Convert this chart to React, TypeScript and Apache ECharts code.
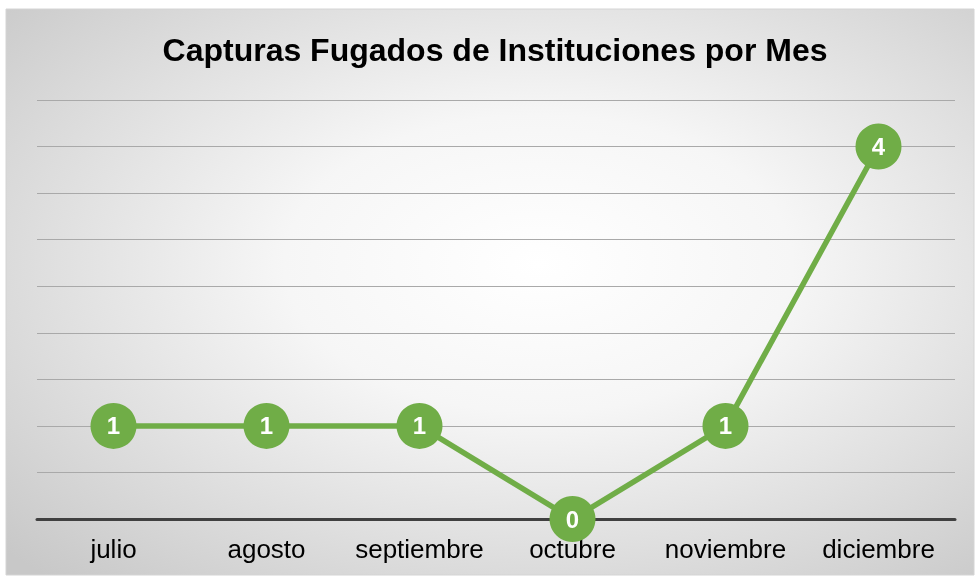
import React, { useEffect, useRef } from "react";
import * as echarts from "echarts";

const months = ["julio", "agosto", "septiembre", "octubre", "noviembre", "diciembre"];
const capturas = [1, 1, 1, 0, 1, 4];
const chartTitle = "Capturas Fugados de Instituciones por Mes";

export default function App() {
  const ref = useRef<HTMLDivElement>(null);
  useEffect(() => {
    if (!ref.current) return;
    const chart = echarts.init(ref.current, undefined, { renderer: "svg" });
    chart.setOption({
      animation: false,
      graphic: [
        {
          type: "rect",
          z: -10,
          silent: true,
          shape: { x: 6, y: 9, width: 968, height: 566 },
          style: {
            fill: new echarts.graphic.RadialGradient(0.55, 0.45, 0.75, [
              { offset: 0, color: "#ffffff" },
              { offset: 0.35, color: "#f6f6f6" },
              { offset: 1, color: "#c8c8c8" },
            ]),
            stroke: "#d4d4d4",
            lineWidth: 1,
          },
        },
        {
          type: "text",
          x: 495,
          y: 50,
          style: {
            text: chartTitle,
            fill: "#000",
            font: "bold 32px 'Liberation Sans', Arial, sans-serif",
            align: "center",
            verticalAlign: "middle",
          },
        },
      ],
      grid: { left: 37, right: 20, top: 100, bottom: 57 },
      xAxis: {
        type: "category",
        data: months,
        boundaryGap: true,
        axisLine: { show: true, lineStyle: { color: "#404040", width: 3 } },
        axisTick: { show: false },
        axisLabel: {
          interval: 0,
          color: "#000",
          fontSize: 26,
          fontFamily: "'Liberation Sans', Arial, sans-serif",
          margin: 17,
        },
        z: 5,
      },
      yAxis: {
        type: "value",
        min: 0,
        max: 4.5,
        interval: 0.5,
        axisLabel: { show: false },
        axisLine: { show: false },
        axisTick: { show: false },
        splitLine: { lineStyle: { color: "#a9a9a9", width: 1 } },
      },
      series: [
        {
          type: "line",
          data: capturas,
          z: 10,
          symbol: "circle",
          symbolSize: 46,
          lineStyle: { color: "#70AD47", width: 5.5 },
          itemStyle: { color: "#70AD47" },
          label: {
            show: true,
            position: "inside",
            color: "#fff",
            fontWeight: "bold",
            fontSize: 24,
            fontFamily: "'Liberation Sans', Arial, sans-serif",
          },
        },
      ],
    });
    return () => chart.dispose();
  }, []);
  return (
    <div
      ref={ref}
      style={{ position: "fixed", left: 0, top: 0, width: 975, height: 576 }}
    />
  );
}
